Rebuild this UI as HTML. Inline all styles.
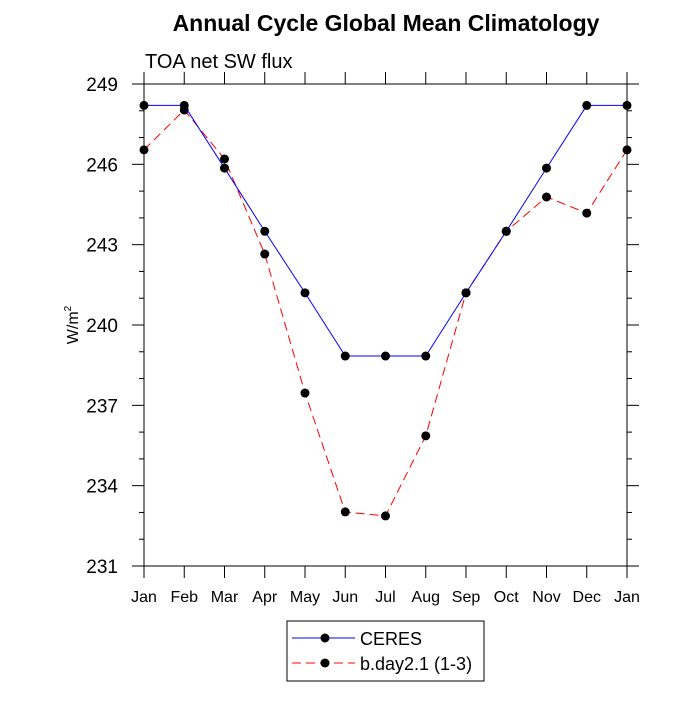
<!DOCTYPE html>
<html><head><meta charset="utf-8"><style>
body{margin:0;background:#fff}
svg text{font-family:"Liberation Sans",sans-serif}
</style></head><body>
<svg id="c" width="700" height="700" xmlns="http://www.w3.org/2000/svg">
<text x="386" y="31" text-anchor="middle" font-size="23" font-weight="bold">Annual Cycle Global Mean Climatology</text>
<text x="145" y="68" font-size="20">TOA net SW flux</text>
<text transform="translate(78,325) rotate(-90)" text-anchor="middle" font-size="16">W/m<tspan dy="-7" font-size="10">2</tspan></text>
<g id="axes"></g>
<g id="series"></g>
<g>
<rect x="287" y="621" width="197" height="60" fill="#fff" stroke="#000" stroke-width="1"/>
<line x1="292" y1="638" x2="355" y2="638" stroke="#00f" stroke-width="1"/>
<circle cx="325" cy="638" r="4.5" fill="#000"/>
<text x="360" y="645" font-size="18">CERES</text>
<line x1="292" y1="663" x2="355" y2="663" stroke="#f00" stroke-width="1" stroke-dasharray="9,5"/>
<circle cx="325" cy="663" r="4.5" fill="#000"/>
<text x="360" y="670" font-size="18">b.day2.1 (1-3)</text>
</g>
</svg>
<script>
const months=["Jan","Feb","Mar","Apr","May","Jun","Jul","Aug","Sep","Oct","Nov","Dec","Jan"];
const ceres=[248.2,248.2,245.86,243.5,241.2,238.84,238.84,238.84,241.2,243.5,245.86,248.2,248.2];
const model=[246.54,248.03,246.2,242.65,237.46,233.02,232.87,235.86,241.2,243.5,244.78,244.18,246.54];
const yTicks=[231,234,237,240,243,246,249];
const X0=144,X1=627,Y0=84,Y1=566,YMIN=231,YMAX=249;
const xs=i=>X0+(X1-X0)*i/(months.length-1);
const ys=v=>Y1-(Y1-Y0)*(v-YMIN)/(YMAX-YMIN);
const NS="http://www.w3.org/2000/svg";
function mk(t,a,p){const e=document.createElementNS(NS,t);for(const k in a)e.setAttribute(k,a[k]);p.appendChild(e);return e;}
const ax=document.getElementById('axes');
const fr=mk('rect',{x:X0,y:Y0,width:X1-X0,height:Y1-Y0,fill:'none',stroke:'#000','stroke-width':1},ax);


months.forEach((m,i)=>{
 const x=xs(i);
 mk('line',{x1:x,y1:Y1,x2:x,y2:Y1+12,stroke:'#000'},ax);
 mk('line',{x1:x,y1:Y0,x2:x,y2:Y0-12,stroke:'#000'},ax);
 const t=mk('text',{x:x,y:Y1+36,'text-anchor':'middle','font-size':16},ax);
 t.textContent=m;
 
 
});
for(let v=YMIN;v<=YMAX;v++){
 const y=ys(v),major=yTicks.includes(v),L=major?12:5;
 mk('line',{x1:X0,y1:y,x2:X0-L,y2:y,stroke:'#000'},ax);
 mk('line',{x1:X1,y1:y,x2:X1+L,y2:y,stroke:'#000'},ax);
}
yTicks.forEach(v=>{
 const t=mk('text',{x:X0-26,y:ys(v)+7,'text-anchor':'end','font-size':19},ax);
 t.textContent=v;
 
 
});
const sg=document.getElementById('series');
function series(vals,color,dash,name){
 const p=mk('polyline',{points:vals.map((v,i)=>xs(i)+','+ys(v)).join(' '),fill:'none',stroke:color,'stroke-width':1,'stroke-dasharray':dash},sg);
 
 
 vals.forEach((v,i)=>{
  const c=mk('circle',{cx:xs(i),cy:ys(v),r:4.5,fill:'#000'},sg);
  
  
 });
}
series(model,'#f00','9,5','model');
series(ceres,'#00f','none','ceres');
</script>
</body></html>
